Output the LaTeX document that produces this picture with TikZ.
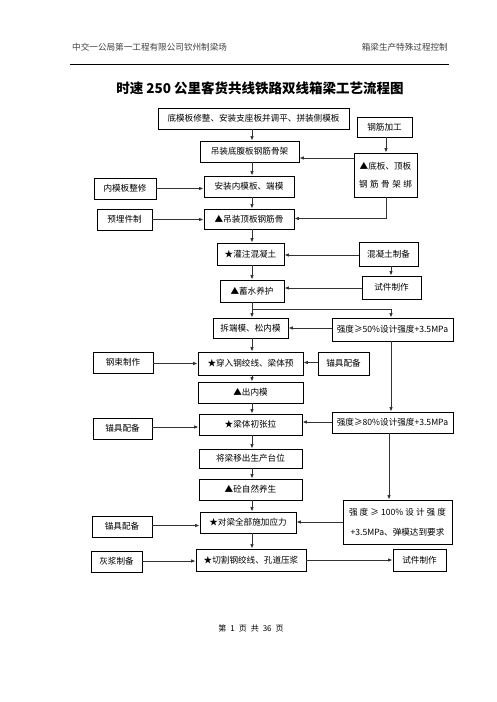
\documentclass[tikz,border=0pt]{standalone}
\usepackage{fontspec}
\setmainfont{Noto Sans CJK SC}
\usetikzlibrary{arrows.meta,calc}
\tikzset{
 bx/.style={draw, line width=0.7pt, inner sep=0pt, font=\fontsize{8.6}{10}\selectfont, align=center},
 arr/.style={draw=black!80, line width=0.9pt, -{Latex[length=4.5pt,width=3.5pt]}},
 hdr/.style={font=\fontsize{8.6}{10}\selectfont, text=black!75, inner sep=0pt},
}
\begin{document}
\begin{tikzpicture}[x=1pt,y=-1pt]
\useasboundingbox[fill=white] (0,0) rectangle (496,702);
% header
\node[hdr, anchor=west] (hl) at (72,47) {中交一公局第一工程有限公司钦州制梁场};
\node[hdr, anchor=east] (hr) at (448,47) {箱梁生产特殊过程控制};
\draw[line width=0.8pt] (70,64) -- (449,64);
\node[font=\fontsize{13.5}{15}\selectfont\bfseries, inner sep=0pt] (title) at (260,88) {时速 250 公里客货共线铁路双线箱梁工艺流程图};
% column reference coordinates
\coordinate (mx) at (252,0);
\coordinate (rx) at (386,0);
\coordinate (rx2) at (391,0);
\coordinate (rx3) at (389,0);
% main column
\node[bx, minimum width=191pt, minimum height=21pt] (b1) at (253.5,118.5) {底模板修整、安装支座板并调平、拼装侧模板};
\node[bx, minimum width=99pt, minimum height=21pt] (b2) at (249.5,151.5) {吊装底腹板钢筋骨架};
\node[bx, minimum width=90pt, minimum height=21pt] (b3) at (249,186.5) {安装内模板、端模};
\node[bx, minimum width=90pt, minimum height=20pt] (b4) at (249,219) {▲吊装顶板钢筋骨};
\node[bx, minimum width=67pt, minimum height=22pt] (b5) at (250.5,254) {★灌注混凝土};
\node[bx, minimum width=64pt, minimum height=22pt] (b6) at (252,291) {▲蓄水养护};
\node[bx, minimum width=75pt, minimum height=20pt] (b7) at (250.5,328) {拆端模、松内模};
\node[bx, minimum width=105pt, minimum height=23pt] (b8) at (250.5,363.5) {★穿入钢绞线、梁体预};
\node[bx, minimum width=105pt, minimum height=21pt] (b9) at (250.5,392.5) {▲出内模};
\node[bx, minimum width=103pt, minimum height=21pt] (b10) at (250.5,424.5) {★梁体初张拉};
\node[bx, minimum width=103pt, minimum height=19pt] (b11) at (250.5,458.5) {将梁移出生产台位};
\node[bx, minimum width=103pt, minimum height=21pt] (b12) at (250.5,489.5) {▲砼自然养生};
\node[bx, minimum width=96pt, minimum height=21pt] (b13) at (248,522.5) {★对梁全部施加应力};
\node[bx, minimum width=110pt, minimum height=22pt] (b14) at (251,560) {★切割钢绞线、孔道压浆};
% right column
\node[bx, minimum width=55pt, minimum height=20pt] (gj) at (384.5,127) {钢筋加工};
\node[bx, minimum width=63pt, minimum height=44pt, font=\fontsize{8.6}{18}\selectfont] (bd) at (385.5,175) {▲底板、顶板\\\makebox[53pt][s]{钢\hfill 筋\hfill 骨\hfill 架\hfill 绑}};
\node[bx, minimum width=59pt, minimum height=24pt] (hn) at (388.5,254) {混凝土制备};
\node[bx, minimum width=59pt, minimum height=23pt] (sj1) at (391.5,287.5) {试件制作};
\node[bx, minimum width=121pt, minimum height=23pt] (q50) at (392.5,329.5) {强度≥50\%设计强度+3.5MPa};
\node[bx, minimum width=51pt, minimum height=23pt] (mj1) at (343.5,363.5) {锚具配备};
\node[bx, minimum width=121pt, minimum height=21pt] (q80) at (392.5,422.5) {强度≥80\%设计强度+3.5MPa};
\node[bx, minimum width=109pt, minimum height=44pt, font=\fontsize{8.6}{20}\selectfont] (q100) at (397.5,522) {\makebox[97pt][s]{强\hfill 度\hfill ≥\hfill 100\%\hfill 设\hfill 计\hfill 强\hfill 度}\\+3.5MPa、弹模达到要求};
\node[bx, minimum width=53pt, minimum height=22pt] (sj2) at (419.5,560) {试件制作};
% left column
\node[bx, minimum width=62pt, minimum height=21pt] (nm) at (125,188.5) {内模板整修};
\node[bx, minimum width=55pt, minimum height=21pt] (yl) at (124.5,219.5) {预埋件制};
\node[bx, minimum width=60pt, minimum height=21pt] (gs) at (123,362.5) {钢束制作};
\node[bx, minimum width=59pt, minimum height=21pt] (mj2) at (122.5,428.5) {锚具配备};
\node[bx, minimum width=60pt, minimum height=21pt] (mj3) at (122,526.5) {锚具配备};
\node[bx, minimum width=51pt, minimum height=21pt] (hj) at (116.5,561.5) {灰浆制备};
% footer
\node[font=\fontsize{8}{10}\selectfont, inner sep=0pt] (ft) at (251,628) {第\hspace{4pt}1\hspace{4pt}页\hspace{4pt}共\hspace{4pt}36\hspace{4pt}页};
% main vertical arrows
\foreach \a/\b in {b1/b2,b2/b3,b3/b4,b4/b5,b5/b6,b6/b7,b7/b8,b8/b9,b9/b10,b10/b11,b11/b12,b12/b13,b13/b14}
  \draw[arr] (\a.south -| mx) -- (\b.north -| mx);
% right side
\draw[arr] (gj.south -| rx) -- (bd.north -| rx);
\draw[arr] (bd.west |- 0,158) -- (b2.east |- 0,158);
\coordinate (bdc) at (386,218.5);
\draw[arr] (bd.south -| rx) -- (bdc) -- (b4.east |- bdc);
\draw[arr] (hn.west |- 0,255) -- (b5.east |- 0,255);
\draw[arr] (hn.south -| rx2) -- (sj1.north -| rx2);
\draw[arr] (sj1.west |- 0,288) -- (b6.east |- 0,288);
\coordinate (spl) at (391,309);
\draw[arr] (b6.south -| mx) |- (spl) -- (q50.north -| spl);
\draw[arr] (q50.west |- 0,328) -- (b7.east |- 0,328);
\draw[arr] (mj1.west |- 0,362.5) -- (b8.east |- 0,362.5);
\draw[arr] (q50.south -| rx2) -- (q80.north -| rx2);
\draw[arr] (q80.west |- 0,422) -- (b10.east |- 0,422);
\draw[arr] (q80.south -| rx3) -- (q100.north -| rx3);
\draw[arr] (q100.west |- 0,522) -- (b13.east |- 0,522);
\draw[arr] (b14.east) -- (sj2.west);
% left side
\draw[arr] (nm.east |- 0,188.5) -- (b3.west |- 0,188.5);
\draw[arr] (yl.east |- 0,219.5) -- (b4.west |- 0,219.5);
\draw[arr] (gs.east |- 0,363.5) -- (b8.west |- 0,363.5);
\draw[arr] (mj2.east |- 0,427) -- (b10.west |- 0,427);
\draw[arr] (mj3.east |- 0,525.5) -- (b13.west |- 0,525.5);
\draw[arr] (hj.east |- 0,561) -- (b14.west |- 0,561);
\end{tikzpicture}
\end{document}
